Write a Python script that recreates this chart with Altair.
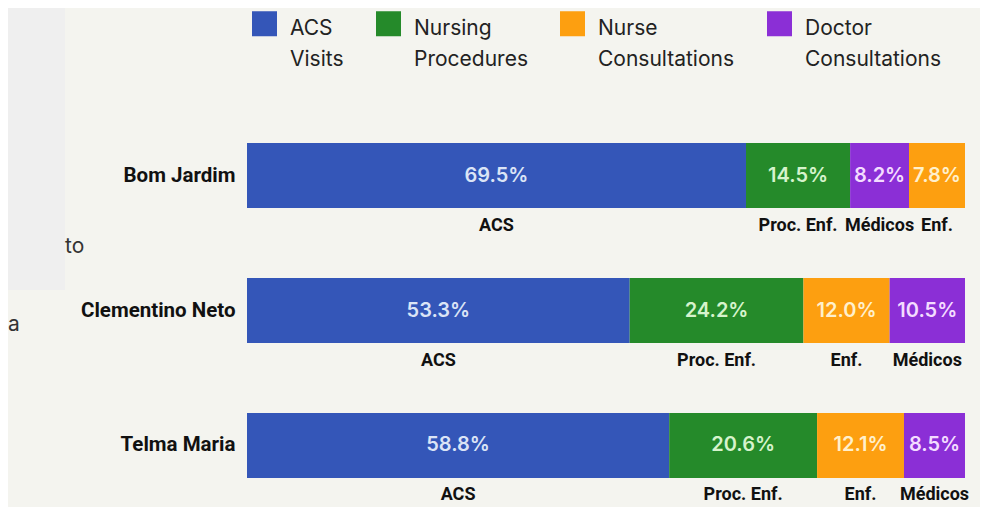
import altair as alt
import pandas as pd

# ---- data ----
sites = ["Bom Jardim", "Clementino Neto", "Telma Maria"]
categories = ["ACS Visits", "Nursing Procedures", "Nurse Consultations", "Doctor Consultations"]
short_labels = ["ACS", "Proc. Enf.", "Enf.", "Médicos"]
bom_jardim = [69.5, 14.5, 7.8, 8.2]
clementino_neto = [53.3, 24.2, 12.0, 10.5]
telma_maria = [58.8, 20.6, 12.1, 8.5]

# ---- styles ----
bar_colors = ["#3456b8", "#258a2a", "#fd9f10", "#8b2fd6"]
text_colors = ["#dbe4f6", "#d6f3cc", "#fff0cc", "#f3dcff"]
BG = "#f4f4ef"

rows = []
for site, vals in zip(sites, [bom_jardim, clementino_neto, telma_maria]):
    for cat, short, v in zip(categories, short_labels, vals):
        rows.append({"site": site, "category": cat, "short": short, "value": v})
df = pd.DataFrame(rows)

base = alt.Chart(df).transform_stack(
    stack="value",
    groupby=["site"],
    as_=["x0", "x1"],
    sort=[alt.SortField("value", order="descending")],
).transform_calculate(
    mid="(datum.x0 + datum.x1) / 2",
    pct="format(datum.value, '.1f') + '%'",
)

x_scale = alt.Scale(domain=[0, 100], nice=False, zero=True)
y_enc = alt.Y(
    "site:N",
    sort=sites,
    scale=alt.Scale(paddingInner=0.5185, paddingOuter=0),
    axis=alt.Axis(
        title=None, domain=False, ticks=False, grid=False,
        labelFont="Roboto", labelFontWeight="bold", labelFontSize=20.5,
        labelColor="#111111", labelPadding=12,
    ),
)

bars = base.mark_bar(strokeWidth=0).encode(
    x=alt.X("x0:Q", scale=x_scale, axis=None),
    x2="x1:Q",
    y=y_enc,
    color=alt.Color(
        "category:N",
        scale=alt.Scale(domain=categories, range=bar_colors),
        legend=alt.Legend(
            title=None, orient="none", legendX=5, legendY=-138,
            direction="horizontal", columns=4,
            symbolType="M-1,-0.52H1V1.48H-1Z", symbolSize=625,
            symbolStrokeWidth=0, symbolOpacity=1,
            labelFont="Inter", labelFontSize=21, labelColor="#222222",
            labelExpr="split(datum.label, ' ')", labelBaseline="top",
            labelOffset=13, columnPadding=32, labelLimit=400,
        ),
    ),
)

pct_text = base.mark_text(font="Inter", fontSize=20, fontWeight=600).encode(
    x=alt.X("mid:Q", scale=x_scale, axis=None),
    y=y_enc,
    text="pct:N",
    color=alt.Color(
        "category:N",
        scale=alt.Scale(domain=categories, range=text_colors),
        legend=None,
    ),
)

cat_text = base.mark_text(
    font="Roboto", fontWeight="bold", fontSize=18, dy=50, color="#111111"
).encode(
    x=alt.X("mid:Q", scale=x_scale, axis=None),
    y=y_enc,
    text="short:N",
)

# stray overlay fragments visible at the left of the reference
panel = alt.Chart(pd.DataFrame({"k": [1]})).mark_rect(color="#efefef").encode(
    x=alt.value(-239), x2=alt.value(-182), y=alt.value(-135), y2=alt.value(147)
)
frag_to = alt.Chart(pd.DataFrame({"t": ["to"]})).mark_text(
    font="Inter", fontSize=21, color="#333333", align="left"
).encode(x=alt.value(-182), y=alt.value(104), text="t:N")
frag_a = alt.Chart(pd.DataFrame({"t": ["a"]})).mark_text(
    font="Inter", fontSize=21, color="#333333", align="left"
).encode(x=alt.value(-239), y=alt.value(182), text="t:N")

chart = alt.layer(panel, frag_to, frag_a, bars, pct_text, cat_text).resolve_scale(
    color="independent"
).properties(
    width=718,
    height=335,
    autosize="none",
    padding={"left": 239, "top": 135, "right": 15, "bottom": 29},
    background=BG,
).configure(
    style={"guide-label": {"lineHeight": 31}}
).configure_view(strokeWidth=0, stroke="transparent")

chart.save("out.html", embed_options={"renderer": "svg", "actions": False})
